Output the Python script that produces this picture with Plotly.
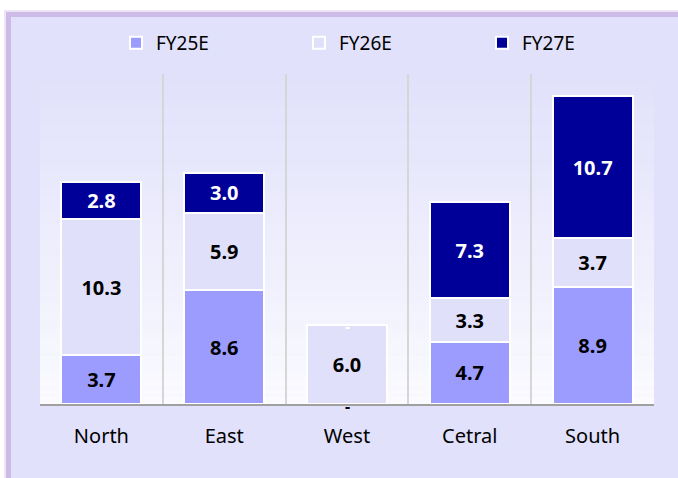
import plotly.graph_objects as go

regions = ["North", "East", "West", "Cetral", "South"]
series_names = ["FY25E", "FY26E", "FY27E"]
fy25e = [3.7, 8.6, 0.0, 4.7, 8.9]
fy26e = [10.3, 5.9, 6.0, 3.3, 3.7]
fy27e = [2.8, 3.0, 0.0, 7.3, 10.7]

series_values = [fy25e, fy26e, fy27e]
colors = ["#9C9CFF", "#E0E0FB", "#000099"]
text_colors = ["#000000", "#000000", "#FFFFFF"]

W, H = 678, 478
ML, MR, MT, MB = 40, 24, 74, 74
PW, PH = W - ML - MR, H - MT - MB

def u(px):
    return (px - ML) / PW

def v(py):
    return (H - MB - py) / PH

FONT = "Noto Sans"

fig = go.Figure()
for name, vals, col, tcol in zip(series_names, series_values, colors, text_colors):
    fig.add_trace(go.Bar(
        name=name, x=regions, y=vals, width=0.65,
        marker=dict(color=col, line=dict(color="#FFFFFF", width=2)),
        text=[f"{val:.1f}" if val > 0 else "" for val in vals],
        textposition="inside", insidetextanchor="middle", textangle=0,
        insidetextfont=dict(family=FONT, size=20, color=tcol, weight="bold"),
        constraintext="none",
    ))

# dash labels for zero values
annotations = []
cum = [0.0] * len(regions)
for vals, tcol in zip(series_values, text_colors):
    for i, val in enumerate(vals):
        if val == 0:
            annotations.append(dict(
                x=regions[i], y=cum[i], xref="x", yref="y", text="-",
                showarrow=False, yanchor="middle", yshift=-2 if cum[i] == 0 else -1,
                font=dict(family=FONT, size=16, color=tcol, weight="bold"),
            ))
        cum[i] += val

shapes = []
# frame with soft purple edge
shapes.append(dict(type="rect", xref="paper", yref="paper", x0=u(4), x1=u(720), y0=v(10), y1=v(520),
                   fillcolor="#EDE5F6", line=dict(width=0), layer="below"))
shapes.append(dict(type="rect", xref="paper", yref="paper", x0=u(6), x1=u(720), y0=v(12), y1=v(520),
                   fillcolor="#CDBAE6", line=dict(width=0), layer="below"))
shapes.append(dict(type="rect", xref="paper", yref="paper", x0=u(11), x1=u(720), y0=v(17), y1=v(520),
                   fillcolor="#E1E1FB", line=dict(width=0), layer="below"))
# gradient in plot area
N = 40
c0 = (0xE1, 0xE1, 0xFB)
c1 = (0xFA, 0xFA, 0xFF)
for k in range(N):
    t = k / (N - 1)
    c = tuple(round(a + (b - a) * t) for a, b in zip(c0, c1))
    shapes.append(dict(type="rect", xref="paper", yref="paper", x0=0, x1=1,
                       y0=1 - (k + 1) / N, y1=1 - k / N + 0.001,
                       fillcolor="rgb(%d,%d,%d)" % c, line=dict(width=0), layer="below"))

fig.update_layout(
    width=W, height=H,
    margin=dict(l=ML, r=MR, t=MT, b=MB),
    paper_bgcolor="#FFFFFF", plot_bgcolor="rgba(0,0,0,0)",
    barmode="stack",
    showlegend=True,
    legend=dict(orientation="h", x=u(116), xanchor="left", y=v(43), yanchor="middle",
                entrywidth=138, entrywidthmode="pixels",
                font=dict(family=FONT, size=19, color="#000000"),
                bgcolor="rgba(0,0,0,0)", traceorder="normal"),
    xaxis=dict(type="category", range=[-0.5, 4.5], tickson="boundaries", showgrid=True,
               gridcolor="#D6D6D6", gridwidth=1.5, showline=True, linecolor="#A0A0A0", linewidth=1.5,
               ticks="", ticklabelstandoff=13,
               tickfont=dict(family=FONT, size=20, color="#000000"), fixedrange=True),
    yaxis=dict(range=[0, 25], visible=False, fixedrange=True),
    shapes=shapes, annotations=annotations,
)

fig.write_html("out.html", config={"displayModeBar": False},
               post_script="document.body.style.margin='0';document.body.style.overflow='hidden';")
